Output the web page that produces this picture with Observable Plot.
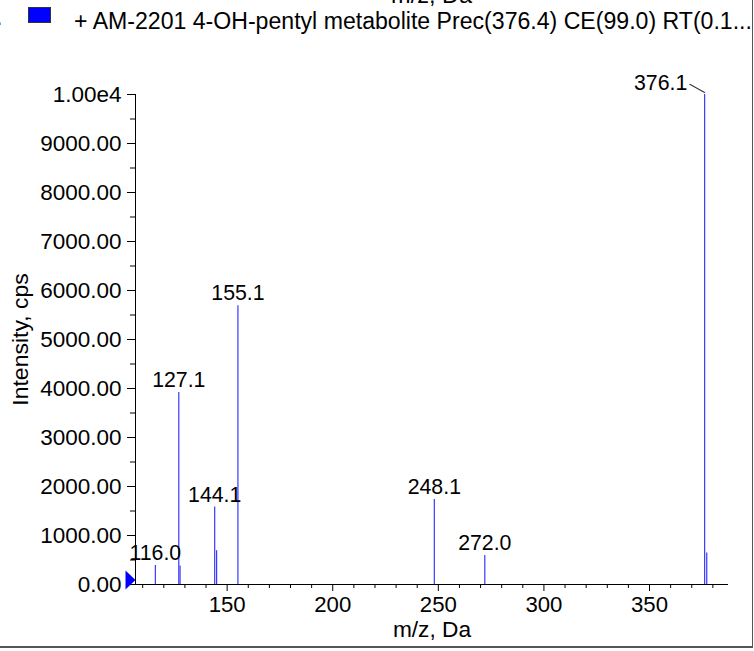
<!DOCTYPE html>
<html>
<head>
<meta charset="utf-8">
<script src="https://cdn.jsdelivr.net/npm/d3@7"></script>
<script src="https://cdn.jsdelivr.net/npm/@observablehq/plot@0.6"></script>
<style>
  body { margin: 0; background: #fff; }
  #wrap { position: relative; width: 754px; height: 651px; overflow: hidden; background: #fff;
          font-family: "Liberation Sans", Arial, sans-serif; color: #000; }
  #header { position: relative; height: 40px; overflow: hidden; }
  #toplabel { position: absolute; left: 231.6px; width: 400px; text-align: center; top: -16.2px;
              font-size: 23.5px; line-height: 23px; white-space: nowrap; }
  #dot { position: absolute; left: -4px; top: 6px; font-size: 23px; line-height: 22px; }
  #swatch { position: absolute; left: 28px; top: 7px; width: 21px; height: 14px;
            background: #0000ff; border: 1px solid #333; }
  #legtext { position: absolute; left: 74px; top: 10px; font-size: 23.1px; line-height: 22px; white-space: nowrap; }
  #chart svg { display: block; }
  #rb { position: absolute; left: 751.5px; top: 0; width: 1.5px; height: 648px; background: #555; }
  #bb { position: absolute; left: 0; top: 646px; width: 753px; height: 1.5px; background: #555; }
</style>
</head>
<body>
<div id="wrap">
  <div id="header">
    <div id="toplabel"></div>
    <span id="dot">.</span>
    <div id="swatch"></div>
    <div id="legtext"></div>
  </div>
  <div id="chart"></div>
  <div id="rb"></div>
  <div id="bb"></div>
</div>
<script>
// ---- data ----
const seriesName = "+ AM-2201 4-OH-pentyl metabolite Prec(376.4) CE(99.0) RT(0.1...";
const xLabel = "m/z, Da";
const yLabel = "Intensity, cps";
const mzValues    = [116.0, 127.1, 127.7, 144.1, 145.0, 155.1, 248.1, 272.0, 376.1, 377.1];
const intensities = [390,   3920,  380,   1580,  690,   5690,  1735,  590,   10000, 645];
const labeledMz   = [116.0, 127.1, 144.1, 155.1, 248.1, 272.0, 376.1];
const xDomain = [106.6, 387.4];
const yDomain = [0, 10000];
const xMajorTicks = [150, 200, 250, 300, 350];
const xMinorTicks = [110, 120, 130, 140, 160, 170, 180, 190, 210, 220, 230, 240, 260, 270, 280, 290, 310, 320, 330, 340, 360, 370, 380];
const yMajorTicks = [0, 1000, 2000, 3000, 4000, 5000, 6000, 7000, 8000, 9000, 10000];
const yMinorTicks = [500, 1500, 2500, 3500, 4500, 5500, 6500, 7500, 8500, 9500];

document.getElementById("legtext").textContent = seriesName;
document.getElementById("toplabel").textContent = xLabel;

// font size that gives a text a wanted rendered width (styling only)
const ctx = document.createElement("canvas").getContext("2d");
ctx.font = '100px "Liberation Sans", Arial, sans-serif';
const fit = (s, w) => +(100 * w / ctx.measureText(s).width).toFixed(2);
const fsYTick = fit("9000.00", 81.3);
const fsXTick = fit("200", 37);
const fsPeak = fit("155.1", 53.3);
const fsYLabel = fit(yLabel, 132.4);
const fsXLabel = fit(xLabel, 78.3);

const peaks = mzValues.map((mz, i) => ({mz, intensity: intensities[i]}));
const labeled = peaks.filter(d => labeledMz.includes(d.mz));
const maxI = d3.max(peaks, d => d.intensity);
const basePeak = labeled.filter(d => d.intensity === maxI);
const otherLabeled = labeled.filter(d => d.intensity !== maxI);

const yFmt = d => d === 10000 ? "1.00e4" : d3.format(".2f")(d);
const blue = "#3838ff";

const plot = Plot.plot({
  width: 754,
  height: 611,
  marginTop: 54,
  marginBottom: 67,
  marginLeft: 135,
  marginRight: 26,
  style: {fontFamily: '"Liberation Sans", Arial, sans-serif', fontSize: "23px", background: "transparent", color: "#000", overflow: "visible"},
  x: {domain: xDomain},
  y: {domain: yDomain},
  marks: [
    Plot.axisY(yMajorTicks, {tickSize: 8, tickPadding: 6, tickFormat: yFmt, label: null, fontSize: fsYTick}),
    Plot.axisY(yMinorTicks, {tickSize: 5, tickFormat: () => "", label: null}),
    Plot.axisX(xMajorTicks, {tickSize: 7, tickPadding: 5, tickFormat: d => String(d), label: null, fontSize: fsXTick}),
    Plot.axisX(xMinorTicks, {tickSize: 4, tickFormat: () => "", label: null}),
    Plot.ruleX(peaks, {x: "mz", y1: 0, y2: "intensity", stroke: blue, strokeWidth: 1.2}),
    Plot.ruleY([yDomain[0]], {stroke: "#000", strokeWidth: 1}),
    Plot.ruleX([xDomain[0]], {stroke: "#000", strokeWidth: 1}),
    Plot.text(otherLabeled, {x: "mz", y: "intensity", text: d => d.mz.toFixed(1), lineAnchor: "bottom", dy: -5.5, fontSize: fsPeak}),
    Plot.text(basePeak, {x: "mz", y: "intensity", text: d => d.mz.toFixed(1), lineAnchor: "bottom", dx: -44, dy: -4.5, fontSize: fsPeak}),
    Plot.vector(basePeak, {x: "mz", y: "intensity", anchor: "start", shape: "spike", r: 0, length: 17, rotate: -61, stroke: "#333", fill: "none", strokeWidth: 1, dy: -2}),
    Plot.vector([0], {frameAnchor: "bottom-left", anchor: "end", shape: "spike", length: 10, r: 9.5, rotate: 90, fill: "#0000ff", stroke: "none", dy: -4.5}),
    Plot.text([yLabel], {frameAnchor: "left", text: d => d, rotate: -90, lineAnchor: "bottom", textAnchor: "middle", dx: -108, dy: 0, fontSize: fsYLabel}),
    Plot.text([xLabel], {frameAnchor: "bottom", text: d => d, lineAnchor: "bottom", dy: 52.5, fontSize: fsXLabel})
  ]
});
document.getElementById("chart").appendChild(plot);
</script>
</body>
</html>
